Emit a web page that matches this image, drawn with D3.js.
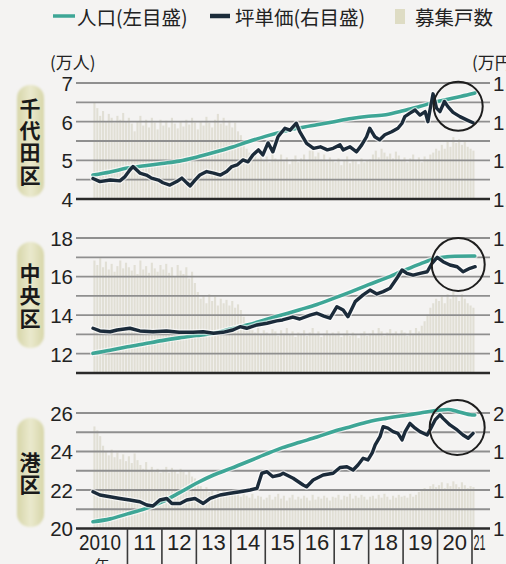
<!DOCTYPE html>
<html>
<head>
<meta charset="utf-8">
<script src="https://cdn.jsdelivr.net/npm/d3@7"></script>
<style>
  html, body { margin: 0; padding: 0; background: #f4f3f2; }
  svg { display: block; }
</style>
</head>
<body>
<svg id="chart" width="506" height="564"></svg>
<script>
// ---------- data ----------
// x axis: years
const yearStarts = [2010, 2011, 2012, 2013, 2014, 2015, 2016, 2017, 2018, 2019, 2020, 2021];
const yearLabels = ["2010", "11", "12", "13", "14", "15", "16", "17", "18", "19", "20", "21"];

// district names
const districts = ["千代田区", "中央区", "港区"];

// left-axis tick labels (万人) and right-axis tick labels (万円)
const chiyodaLeftTicks = [4, 5, 6, 7];
const chuoLeftTicks = [12, 14, 16, 18];
const minatoLeftTicks = [20, 22, 24, 26];
const chiyodaRightTicks = [1.4, 1.5, 1.6, 1.7];
const chuoRightTicks = [1.2, 1.4, 1.6, 1.8];
const minatoRightTicks = [1.4, 1.6, 1.8, 2.0];

// population, 万人 [year, value]
const chiyodaPop = [[2010.0,4.62],[2010.5,4.70],[2011.0,4.80],[2011.5,4.86],[2012.0,4.92],[2012.5,4.98],[2013.0,5.08],[2013.5,5.20],[2014.0,5.33],[2014.5,5.48],[2015.0,5.62],[2015.5,5.74],[2016.0,5.84],[2016.5,5.92],[2017.0,6.00],[2017.5,6.08],[2018.0,6.14],[2018.5,6.18],[2019.0,6.28],[2019.5,6.40],[2020.0,6.52],[2020.5,6.62],[2021.0,6.72],[2021.08,6.74]];
const chuoPop = [[2010.0,12.02],[2010.5,12.18],[2011.0,12.36],[2011.5,12.52],[2012.0,12.68],[2012.5,12.82],[2013.0,12.94],[2013.5,13.06],[2014.0,13.28],[2014.5,13.50],[2015.0,13.76],[2015.5,14.02],[2016.0,14.28],[2016.5,14.55],[2017.0,14.88],[2017.5,15.22],[2018.0,15.58],[2018.5,15.92],[2019.0,16.30],[2019.5,16.66],[2020.0,16.96],[2020.5,17.05],[2021.0,17.07],[2021.08,17.07]];
const minatoPop = [[2010.0,20.35],[2010.5,20.50],[2011.0,20.76],[2011.5,21.02],[2012.0,21.38],[2012.5,21.85],[2013.0,22.35],[2013.5,22.78],[2014.0,23.12],[2014.5,23.48],[2015.0,23.85],[2015.5,24.20],[2016.0,24.48],[2016.5,24.75],[2017.0,25.05],[2017.5,25.30],[2018.0,25.55],[2018.5,25.72],[2019.0,25.86],[2019.5,26.00],[2020.0,26.14],[2020.3,26.18],[2020.6,26.07],[2021.0,25.90],[2021.08,25.90]];

// rent per tsubo, 万円 [year, value]
const chiyodaPrice = [[2010.0,1.453],[2010.2,1.445],[2010.5,1.449],[2010.78,1.447],[2010.93,1.458],[2011.07,1.475],[2011.16,1.484],[2011.36,1.467],[2011.55,1.462],[2011.7,1.454],[2011.9,1.449],[2012.03,1.442],[2012.23,1.436],[2012.43,1.445],[2012.58,1.454],[2012.73,1.441],[2012.82,1.434],[2012.96,1.449],[2013.1,1.462],[2013.3,1.471],[2013.5,1.467],[2013.7,1.462],[2013.88,1.471],[2014.03,1.484],[2014.18,1.488],[2014.35,1.501],[2014.5,1.496],[2014.64,1.514],[2014.8,1.527],[2014.93,1.514],[2015.08,1.545],[2015.22,1.522],[2015.37,1.561],[2015.57,1.583],[2015.72,1.578],[2015.9,1.596],[2016.0,1.574],[2016.2,1.544],[2016.4,1.531],[2016.6,1.535],[2016.8,1.527],[2016.97,1.531],[2017.17,1.540],[2017.26,1.527],[2017.46,1.535],[2017.65,1.522],[2017.8,1.540],[2017.94,1.561],[2018.03,1.583],[2018.18,1.561],[2018.32,1.553],[2018.47,1.566],[2018.67,1.574],[2018.85,1.583],[2018.97,1.596],[2019.05,1.613],[2019.2,1.622],[2019.35,1.630],[2019.49,1.617],[2019.64,1.626],[2019.72,1.600],[2019.78,1.630],[2019.87,1.672],[2019.97,1.635],[2020.07,1.626],[2020.2,1.652],[2020.3,1.639],[2020.45,1.624],[2020.65,1.613],[2020.86,1.604],[2021.03,1.597]];
const chuoPrice = [[2010.0,1.332],[2010.2,1.318],[2010.5,1.314],[2010.7,1.323],[2011.07,1.332],[2011.36,1.318],[2011.74,1.314],[2012.13,1.318],[2012.5,1.311],[2012.9,1.311],[2013.2,1.314],[2013.5,1.306],[2013.77,1.311],[2014.06,1.323],[2014.27,1.340],[2014.46,1.332],[2014.76,1.349],[2015.05,1.358],[2015.33,1.370],[2015.5,1.375],[2015.8,1.390],[2016.0,1.380],[2016.3,1.400],[2016.5,1.410],[2016.7,1.395],[2016.88,1.384],[2017.08,1.444],[2017.26,1.427],[2017.40,1.392],[2017.61,1.470],[2017.84,1.505],[2018.04,1.530],[2018.24,1.510],[2018.42,1.522],[2018.62,1.539],[2018.82,1.591],[2018.97,1.634],[2019.11,1.617],[2019.29,1.608],[2019.49,1.617],[2019.70,1.625],[2019.84,1.669],[2019.99,1.700],[2020.16,1.677],[2020.36,1.660],[2020.57,1.651],[2020.74,1.625],[2020.94,1.643],[2021.09,1.651]];
const minatoPrice = [[2010.0,1.591],[2010.2,1.574],[2010.49,1.565],[2010.78,1.556],[2011.07,1.548],[2011.36,1.539],[2011.56,1.522],[2011.74,1.517],[2011.94,1.548],[2012.14,1.556],[2012.29,1.530],[2012.53,1.530],[2012.72,1.548],[2012.96,1.556],[2013.2,1.530],[2013.4,1.556],[2013.69,1.574],[2013.98,1.583],[2014.27,1.591],[2014.56,1.600],[2014.76,1.609],[2014.9,1.687],[2015.05,1.695],[2015.22,1.669],[2015.43,1.678],[2015.52,1.687],[2015.81,1.661],[2016.1,1.626],[2016.2,1.617],[2016.39,1.652],[2016.68,1.678],[2016.97,1.687],[2017.17,1.717],[2017.37,1.721],[2017.55,1.704],[2017.69,1.730],[2017.84,1.765],[2017.98,1.756],[2018.1,1.791],[2018.19,1.834],[2018.33,1.877],[2018.42,1.929],[2018.56,1.921],[2018.71,1.903],[2018.85,1.894],[2018.97,1.860],[2019.06,1.903],[2019.2,1.946],[2019.35,1.921],[2019.49,1.903],[2019.7,1.886],[2019.78,1.912],[2019.93,1.964],[2020.07,1.990],[2020.16,1.972],[2020.36,1.938],[2020.57,1.912],[2020.74,1.886],[2020.89,1.869],[2021.03,1.894]];

// monthly listings (戸), Jan 2010 onward
const chiyodaListings = [500,470,430,455,400,440,420,395,430,410,445,400, 420,390,350,400,430,380,410,370,420,395,360,410, 380,405,370,420,390,365,400,375,410,385,420,395, 360,400,380,425,395,370,410,440,390,420,380,405, 370,395,350,330,300,260,240,220,250,210,230,200, 220,190,240,210,200,230,195,215,180,205,225,190, 210,230,200,250,270,220,240,205,230,195,215,200, 190,210,175,200,220,185,205,195,180,210,190,200, 205,230,250,215,260,240,220,235,210,245,225,200, 215,190,210,230,200,215,190,220,205,230,240,260, 250,280,260,300,270,320,290,310,280,300,270,260, 250];
const chuoListings = [500,480,510,470,495,460,485,450,475,500,465,490, 470,455,480,440,500,460,475,445,490,465,450,480, 460,485,445,470,430,480,455,440,470,420,450,400, 360,330,345,310,350,320,340,300,330,310,325,300, 320,290,305,280,250,220,200,190,180,200,175,190, 180,170,195,185,165,190,175,200,170,185,160,180, 175,190,165,180,200,170,185,160,175,190,170,180, 170,185,160,175,190,165,180,170,155,175,185,165, 175,190,170,200,185,165,180,195,175,185,170,190, 180,165,190,175,200,185,210,230,260,290,310,330, 320,340,310,350,330,360,340,320,350,330,310,300, 290];
const minatoListings = [530,510,480,430,400,380,410,370,395,360,385,350, 375,340,390,355,330,310,345,300,320,295,310,290, 305,320,290,315,300,285,310,295,280,300,270,260, 240,220,200,215,190,205,180,200,175,195,185,170, 190,175,200,165,185,170,160,180,155,170,165,150, 160,175,150,165,180,155,170,145,160,175,150,165, 155,170,160,145,175,150,165,155,170,160,145,165, 160,175,150,170,165,180,155,170,160,175,165,150, 165,170,155,175,160,180,165,150,170,160,175,165, 170,160,180,165,175,190,200,210,195,220,230,215, 225,240,210,235,220,245,230,215,240,225,210,220, 215];

// highlighted period markers [year, population value]
const chiyodaMark = [2020.6, 6.40];
const chuoMark = [2020.6, 16.63];
const minatoMark = [2020.57, 25.25];

// ---------- layout ----------
const CJK = '"Noto Sans CJK JP", "Noto Sans", sans-serif';
const NUM = '"Liberation Sans", Arial, Helvetica, sans-serif';
const TEAL = "#3ea696";
const NAVY = "#1b2b3a";
const BAR = "#dfddd2";
const GRID = "#8f8f8f";

const svg = d3.select("#chart");
const gridX0 = 76, gridX1 = 490;
const x = d3.scaleLinear().domain([2010, 2021]).range([93, 472]);

const defs = svg.append("defs");
const grad = defs.append("linearGradient").attr("id", "pill").attr("x1", "0").attr("x2", "1").attr("y1", "0").attr("y2", "0");
grad.append("stop").attr("offset", "0%").attr("stop-color", "#d7d6a9");
grad.append("stop").attr("offset", "50%").attr("stop-color", "#eae9cd");
grad.append("stop").attr("offset", "100%").attr("stop-color", "#d7d6a9");
defs.append("filter").attr("id", "soft").append("feGaussianBlur").attr("stdDeviation", 0.8);

const panels = [
  { name: districts[0], pop: chiyodaPop, price: chiyodaPrice, bars: chiyodaListings,
    dom: [4, 7], top: 83, bottom: 199, step: 0.5, left: chiyodaLeftTicks,
    right: chiyodaRightTicks, rdom: [1.4, 1.7], pill: [85, 197], mark: chiyodaMark, r: 24.5 },
  { name: districts[1], pop: chuoPop, price: chuoPrice, bars: chuoListings,
    dom: [11, 18], top: 238, bottom: 373, step: 1, left: chuoLeftTicks,
    right: chuoRightTicks, rdom: [1.1, 1.8], pill: [242, 348], mark: chuoMark, r: 26.5 },
  { name: districts[2], pop: minatoPop, price: minatoPrice, bars: minatoListings,
    dom: [20, 26], top: 413, bottom: 528.5, step: 1, left: minatoLeftTicks,
    right: minatoRightTicks, rdom: [1.4, 2.0], pill: [418, 527], mark: minatoMark, r: 27.5 }
];

// legend
const lg = svg.append("g");
lg.append("line").attr("x1", 53).attr("x2", 75).attr("y1", 16).attr("y2", 16)
  .attr("stroke", TEAL).attr("stroke-width", 3.5);
lg.append("text").attr("x", 77).attr("y", 25).text("人口(左目盛)");
lg.append("line").attr("x1", 210).attr("x2", 230).attr("y1", 16).attr("y2", 16)
  .attr("stroke", NAVY).attr("stroke-width", 4.5);
lg.append("text").attr("x", 235).attr("y", 25).text("坪単価(右目盛)");
lg.append("rect").attr("x", 395).attr("y", 9).attr("width", 10).attr("height", 15).attr("fill", "#dedcc4");
lg.append("text").attr("x", 415).attr("y", 25).text("募集戸数");
lg.selectAll("text").attr("font-family", CJK).attr("font-size", 19.5).attr("fill", "#222");

// units
svg.append("text").attr("x", 50).attr("y", 69).attr("font-family", CJK).attr("font-size", 17)
  .attr("fill", "#222").text("(万人)");
svg.append("text").attr("x", 472).attr("y", 69).attr("font-family", CJK).attr("font-size", 17)
  .attr("fill", "#222").text("(万円)");

panels.forEach(p => {
  const g = svg.append("g");
  const y = d3.scaleLinear().domain(p.dom).range([p.bottom, p.top]);
  const yR = d3.scaleLinear().domain(p.rdom).range([p.bottom, p.top]);
  const yB = d3.scaleLinear().domain([0, 600]).range([p.bottom, p.top]);

  // listings bars
  const bw = x(2010 + 1 / 12) - x(2010) - 0.8;
  g.append("g").selectAll("rect").data(p.bars).join("rect")
    .attr("x", (d, i) => x(2010 + i / 12) + 0.4)
    .attr("y", d => yB(d))
    .attr("width", bw)
    .attr("height", d => p.bottom - yB(d))
    .attr("fill", BAR)
    .attr("opacity", 0.9);

  // gridlines
  const gridVals = d3.range(p.dom[0] + p.step, p.dom[1] + 1e-6, p.step);
  g.append("g").selectAll("line").data(gridVals).join("line")
    .attr("x1", gridX0).attr("x2", gridX1)
    .attr("y1", d => y(d)).attr("y2", d => y(d))
    .attr("stroke", GRID).attr("stroke-width", 1.8);
  g.append("line").attr("x1", gridX0).attr("x2", gridX1)
    .attr("y1", y(p.dom[0])).attr("y2", y(p.dom[0]))
    .attr("stroke", "#2a2a2a").attr("stroke-width", 2.6);

  // left axis labels
  const ax = d3.axisLeft(y).tickValues(p.left).tickSize(0).tickPadding(0).tickFormat(d3.format("d"));
  const axG = g.append("g").attr("transform", `translate(73,0)`).call(ax);
  axG.select(".domain").remove();
  axG.selectAll("text").attr("font-family", NUM).attr("font-size", 20.5).attr("fill", "#222").attr("dy", "0.36em");

  // right axis labels (run past the page edge)
  const axR = d3.axisRight(yR).tickValues(p.right).tickSize(0).tickPadding(0).tickFormat(d3.format(".1f"));
  const axRG = g.append("g").attr("transform", `translate(493,0)`).call(axR);
  axRG.select(".domain").remove();
  axRG.selectAll("text").attr("font-family", NUM).attr("font-size", 20.5).attr("fill", "#222").attr("dy", "0.36em");

  // lines
  const popLine = d3.line().x(d => x(d[0])).y(d => y(d[1])).curve(d3.curveMonotoneX);
  const priceLine = d3.line().x(d => x(d[0])).y(d => yR(d[1]));
  const halo = (path, w) => g.append("path").attr("d", path).attr("fill", "none")
    .attr("stroke", "#ffffff").attr("stroke-opacity", 0.6).attr("stroke-width", w)
    .attr("stroke-linejoin", "round").attr("stroke-linecap", "round");
  halo(popLine(p.pop), 6);
  g.append("path").attr("d", popLine(p.pop)).attr("fill", "none")
    .attr("stroke", TEAL).attr("stroke-width", 3.6).attr("stroke-linecap", "round");
  halo(priceLine(p.price), 6);
  g.append("path").attr("d", priceLine(p.price)).attr("fill", "none")
    .attr("stroke", NAVY).attr("stroke-width", 3.4)
    .attr("stroke-linejoin", "round").attr("stroke-linecap", "round");

  // highlight circle
  g.append("circle").attr("cx", x(p.mark[0])).attr("cy", y(p.mark[1])).attr("r", p.r)
    .attr("fill", "none").attr("stroke", "#1e1e1e").attr("stroke-width", 2);

  // district label pill with vertical name
  g.append("rect").attr("x", 17).attr("y", p.pill[0]).attr("width", 27)
    .attr("height", p.pill[1] - p.pill[0]).attr("rx", 13).attr("fill", "url(#pill)")
    .attr("filter", "url(#soft)");
  const mid = (p.pill[0] + p.pill[1]) / 2 + 1;
  g.append("text")
    .attr("x", 30).attr("y", mid)
    .style("writing-mode", "vertical-rl")
    .style("letter-spacing", "1.3px")
    .attr("text-anchor", "middle")
    .attr("font-family", CJK).attr("font-weight", 700).attr("font-size", 21)
    .attr("fill", "#1a1a1a").text(p.name);
});

// year axis
const axisY = 528.5;
const xa = svg.append("g");
xa.selectAll("line").data(yearStarts.slice(1)).join("line")
  .attr("x1", d => x(d)).attr("x2", d => x(d))
  .attr("y1", axisY).attr("y2", 564)
  .attr("stroke", "#3a3a3a").attr("stroke-width", 1.6);
const xEnd = x.invert(gridX1);
xa.selectAll("text.yr").data(yearStarts).join("text").attr("class", "yr")
  .attr("x", (d, i) => i === 0 ? 100 : (i === yearStarts.length - 1 ? 479.5 : (x(d) + x(d + 1)) / 2))
  .attr("y", 550)
  .attr("text-anchor", "middle")
  .attr("font-family", NUM).attr("font-size", 22).attr("fill", "#222")
  .attr("textLength", (d, i) => i === 0 ? 42 : (i === yearStarts.length - 1 ? 12 : null))
  .attr("lengthAdjust", "spacingAndGlyphs")
  .text((d, i) => yearLabels[i]);
xa.append("text").attr("x", 102).attr("y", 571).attr("text-anchor", "middle")
  .attr("font-family", CJK).attr("font-size", 15).attr("fill", "#222").text("年");
</script>
</body>
</html>
